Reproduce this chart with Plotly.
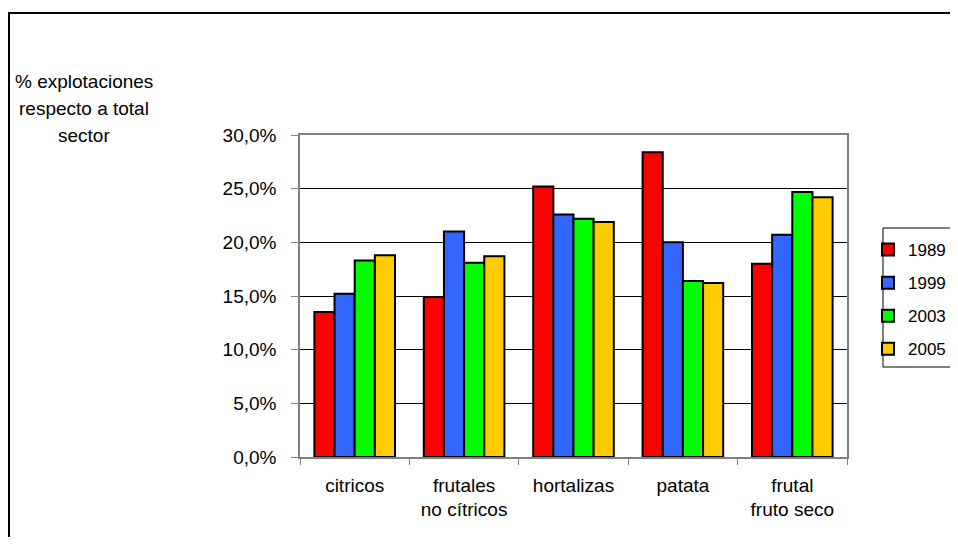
import plotly.graph_objects as go

categories = ["citricos", "frutales<br>no cítricos", "hortalizas", "patata", "frutal<br>fruto seco"]
years = ["1989", "1999", "2003", "2005"]
v1989 = [0.135, 0.149, 0.252, 0.284, 0.180]
v1999 = [0.152, 0.210, 0.226, 0.200, 0.207]
v2003 = [0.183, 0.181, 0.222, 0.164, 0.247]
v2005 = [0.188, 0.187, 0.219, 0.162, 0.242]
series = [v1989, v1999, v2003, v2005]
colors = ["#FF0000", "#3366FF", "#00FF00", "#FFCC00"]
y_title_lines = ["% explotaciones", "respecto a total", "sector"]

OFF = 8  # default page body margin
W, H = 958 - 2 * OFF, 545 - 2 * OFF
L, T = 300 - OFF, 135 - OFF
pw = 547
ph = 322
R = W - L - pw
B = H - T - ph

def px(x):
    return (x - OFF - L) / pw

def py(y):
    return (T + ph - (y - OFF)) / ph

FONT = "Arial, Liberation Sans, sans-serif"

fig = go.Figure()
for name, vals, col in zip(years, series, colors):
    fig.add_trace(go.Bar(
        x=categories, y=vals, name=name, legendgroup=name,
        marker=dict(color=col, line=dict(color="#000000", width=2)),
    ))

fig.update_layout(
    width=W, height=H,
    margin=dict(l=L, r=R, t=T, b=B, autoexpand=False),
    paper_bgcolor="white", plot_bgcolor="white",
    font=dict(family=FONT, size=19, color="#000000"),
    separators=",.",
    barmode="group", bargap=0.263, bargroupgap=0,
    showlegend=True,
    legend=dict(
        x=px(868), y=py(232), xanchor="left", yanchor="top",
        xref="paper", yref="paper",
        font=dict(size=17, family=FONT),
        tracegroupgap=8, bgcolor="rgba(0,0,0,0)",
    ),
    xaxis=dict(
        showline=True, linecolor="#808080", linewidth=1.5, mirror=True,
        ticks="outside", tickson="boundaries", ticklen=6, tickcolor="#808080",
        ticklabelstandoff=10,
        showgrid=False, tickfont=dict(size=19),
    ),
    yaxis=dict(
        range=[0, 0.30], dtick=0.05, tickformat=".1%",
        showline=True, linecolor="#808080", linewidth=1.5, mirror=True,
        ticks="outside", ticklen=7, tickcolor="#808080",
        ticklabelstandoff=11,
        showgrid=True, gridcolor="#000000", gridwidth=1,
        zeroline=False, tickfont=dict(size=19),
    ),
)

# outer frame
fig.add_shape(type="rect", xref="paper", yref="paper",
              x0=px(9), y0=py(620), x1=px(1020), y1=py(13),
              line=dict(color="#000000", width=2), fillcolor="rgba(0,0,0,0)", layer="below")
# legend box
fig.add_shape(type="rect", xref="paper", yref="paper",
              x0=px(883), y0=py(367), x1=px(1020), y1=py(228),
              line=dict(color="#000000", width=1), fillcolor="rgba(0,0,0,0)")

for txt, yc in zip(y_title_lines, [82, 109, 136]):
    fig.add_annotation(text=txt, xref="paper", yref="paper",
                       x=px(84), y=py(yc), xanchor="center", yanchor="middle",
                       showarrow=False, font=dict(size=19, family=FONT))

fig.write_html("out.html", config={"displayModeBar": False})
